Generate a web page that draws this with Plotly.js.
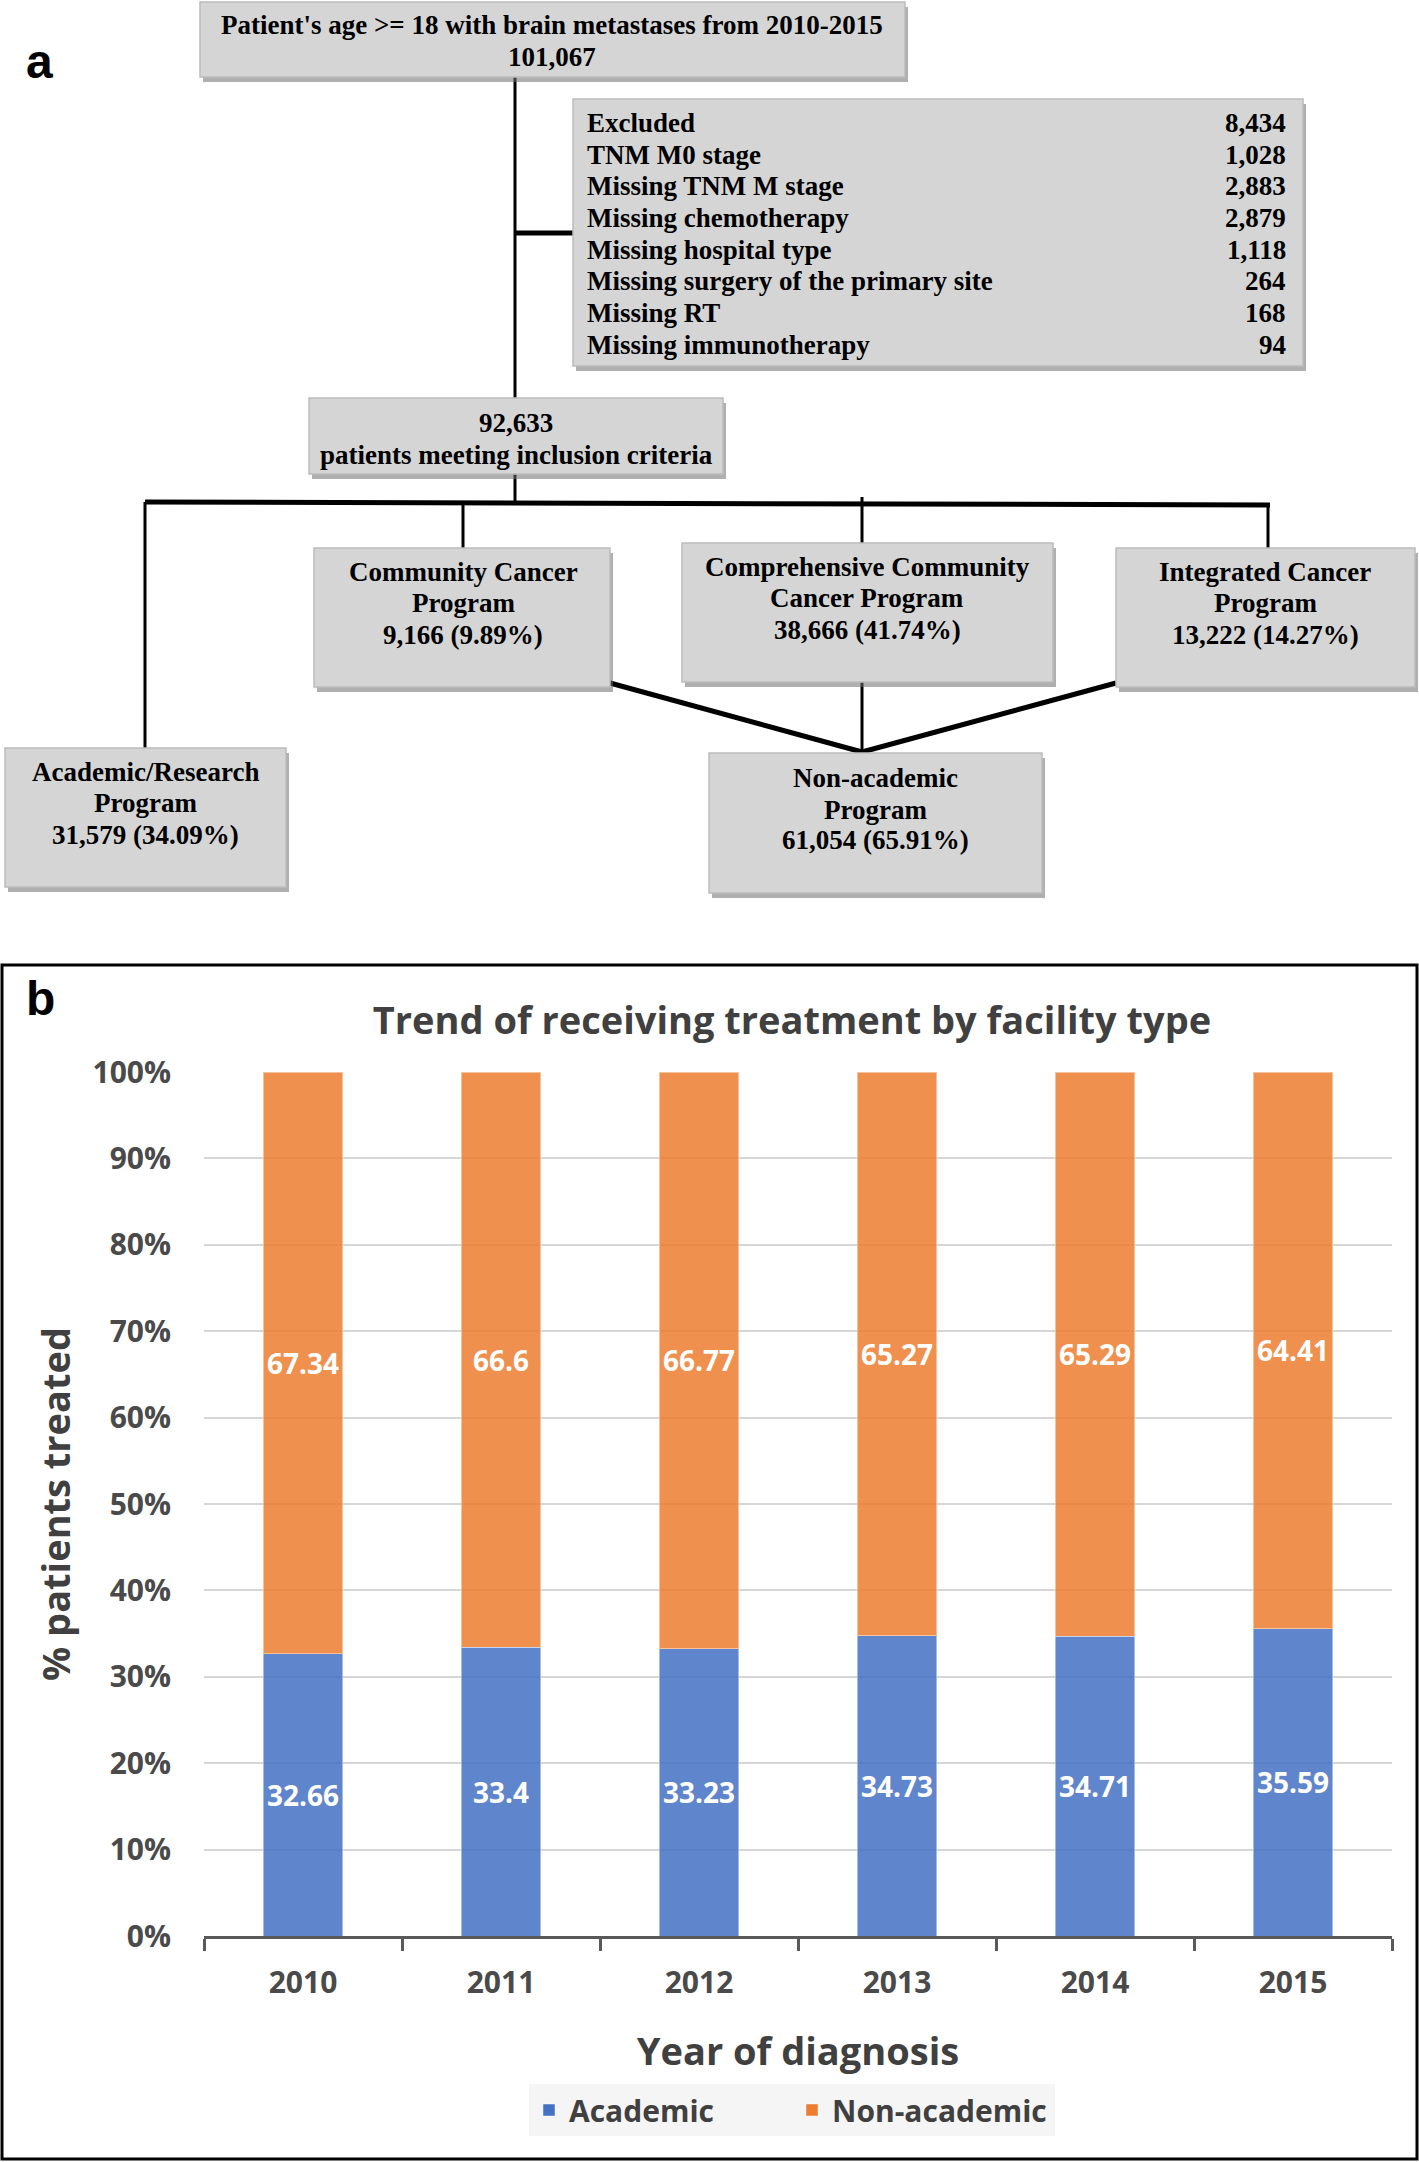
<!DOCTYPE html>
<html>
<head>
<meta charset="utf-8">
<script src="https://cdn.plot.ly/plotly-3.0.1.min.js"></script>
<style>html,body{margin:0;padding:0;background:#fff}#chart{width:1419px;height:2162px}</style>
</head>
<body>
<div id="chart"></div>
<script>
// ---------------- DATA ----------------
// Panel b: stacked bars
const years = ['2010', '2011', '2012', '2013', '2014', '2015'];
const academic = [32.66, 33.4, 33.23, 34.73, 34.71, 35.59];
const nonAcademic = [67.34, 66.6, 66.77, 65.27, 65.29, 64.41];
const yTickValues = [0, 10, 20, 30, 40, 50, 60, 70, 80, 90, 100];

// Panel a: flowchart
const cohortLabel = "Patient's age >= 18 with brain metastases from 2010-2015";
const cohortTotal = 101067;
const exclusionReasons = ['Excluded', 'TNM M0 stage', 'Missing TNM M stage', 'Missing chemotherapy',
  'Missing hospital type', 'Missing surgery of the primary site', 'Missing RT', 'Missing immunotherapy'];
const exclusionCounts = [8434, 1028, 2883, 2879, 1118, 264, 168, 94];
const includedTotal = 92633;
const includedLabel = 'patients meeting inclusion criteria';
const programNames = [['Community Cancer', 'Program'], ['Comprehensive Community', 'Cancer Program'],
  ['Integrated Cancer', 'Program'], ['Academic/Research', 'Program'], ['Non-academic', 'Program']];
const programCounts = [9166, 38666, 13222, 31579, 61054];
const programPercents = ['9.89', '41.74', '14.27', '34.09', '65.91'];

// ---------------- LAYOUT GEOMETRY (pixels) ----------------
const W = 1419, H = 2162;
const px = x => x / W;
const py = y => 1 - y / H;
const fmt = n => n.toLocaleString('en-US');

const BOXES = {
  top:   {r: [200, 2, 905, 77],    lines: [25, 57], cx: 552},
  excl:  {r: [573, 99, 1303, 366]},
  incl:  {r: [309, 398, 723, 474],  lines: [423, 455], cx: 516},
  p0:    {r: [314, 548, 610, 687],  lines: [572, 603, 635], cx: 463},
  p1:    {r: [682, 543, 1053, 682], lines: [567, 598, 630], cx: 867},
  p2:    {r: [1116, 548, 1415, 687], lines: [572, 603, 635], cx: 1265},
  p3:    {r: [5, 748, 286, 887],    lines: [772, 803, 835], cx: 145},
  p4:    {r: [709, 753, 1042, 893], lines: [778, 810, 840], cx: 875}
};
const EXCL_ROW0 = 123, EXCL_STEP = 31.7, EXCL_LEFT = 585, EXCL_RIGHT = 1288;

const CONNECTORS = [
  [515, 77, 515, 398, 3],
  [515, 233, 573, 233, 5],
  [515, 474, 515, 502, 3],
  [145, 502, 1270, 505, 5],
  [145, 502, 145, 748, 3],
  [463, 502, 463, 548, 3],
  [862, 497, 862, 543, 3],
  [1268, 504, 1268, 548, 3],
  [610, 683, 862, 752, 5],
  [1116, 683, 862, 752, 5],
  [862, 682, 862, 753, 3]
];

const serif = {family: 'Liberation Serif, Times New Roman, serif', size: 27, color: '#000', weight: 'bold'};
const sans = 'Open Sans, Noto Sans, sans-serif';

const shapes = [];
const annotations = [];

// connectors
CONNECTORS.forEach(c => shapes.push({type: 'line', xref: 'paper', yref: 'paper',
  x0: px(c[0]), y0: py(c[1]), x1: px(c[2]), y1: py(c[3]), line: {color: '#000', width: c[4]}}));

// boxes
Object.values(BOXES).forEach(b => {
  const [x0, y0, x1, y1] = b.r;
  shapes.push({type: 'rect', xref: 'paper', yref: 'paper', x0: px(x0 + 3), y0: py(y0 + 5), x1: px(x1 + 3), y1: py(y1 + 5),
    fillcolor: 'rgba(110,110,110,0.55)', line: {width: 0}});
  shapes.push({type: 'rect', xref: 'paper', yref: 'paper', x0: px(x0), y0: py(y0), x1: px(x1), y1: py(y1),
    fillcolor: '#d5d5d5', line: {color: '#bcbcbc', width: 1.5}});
});

function addLines(box, texts) {
  texts.forEach((t, i) => annotations.push({xref: 'paper', yref: 'paper', x: px(box.cx), y: py(box.lines[i]),
    xanchor: 'center', yanchor: 'middle', text: t, showarrow: false, font: serif}));
}
addLines(BOXES.top, [cohortLabel, fmt(cohortTotal)]);
addLines(BOXES.incl, [fmt(includedTotal), includedLabel]);
['p0', 'p1', 'p2', 'p3', 'p4'].forEach((k, i) =>
  addLines(BOXES[k], programNames[i].concat([fmt(programCounts[i]) + ' (' + programPercents[i] + '%)'])));
exclusionReasons.forEach((r, i) => {
  const y = py(EXCL_ROW0 + i * EXCL_STEP);
  annotations.push({xref: 'paper', yref: 'paper', x: px(EXCL_LEFT), y: y, xanchor: 'left', yanchor: 'middle',
    text: r, showarrow: false, font: serif});
  annotations.push({xref: 'paper', yref: 'paper', x: px(EXCL_RIGHT), y: y, xanchor: 'right', yanchor: 'middle',
    text: fmt(exclusionCounts[i]), showarrow: false, font: serif});
});

// panel letters
const letterFont = {family: 'Liberation Sans, Arial, sans-serif', size: 48, color: '#000', weight: 'bold'};
annotations.push({xref: 'paper', yref: 'paper', x: px(24), y: py(61), xanchor: 'left', yanchor: 'middle',
  text: 'a', showarrow: false, font: letterFont});
annotations.push({xref: 'paper', yref: 'paper', x: px(24), y: py(998), xanchor: 'left', yanchor: 'middle',
  text: 'b', showarrow: false, font: letterFont});

// panel b frame
shapes.push({type: 'rect', xref: 'paper', yref: 'paper', x0: px(2), y0: py(965), x1: px(1417), y1: py(2159),
  line: {color: '#000', width: 3}, fillcolor: 'rgba(0,0,0,0)'});

// ---------------- TRACES ----------------
const labelFont = {family: sans, size: 28, color: '#ffffff', weight: 'bold'};
const traces = [
  {type: 'bar', name: 'Academic', x: years, y: academic, text: academic.map(String),
   textposition: 'inside', insidetextanchor: 'middle', textangle: 0, constraintext: 'none',
   textfont: labelFont, marker: {color: '#4472C4', opacity: 0.85, line: {color: 'rgba(255,255,255,0.45)', width: 1}},
   hoverinfo: 'x+y'},
  {type: 'bar', name: 'Non-academic', x: years, y: nonAcademic, text: nonAcademic.map(String),
   textposition: 'inside', insidetextanchor: 'middle', textangle: 0, constraintext: 'none',
   textfont: labelFont, marker: {color: '#ED7D31', opacity: 0.85, line: {color: 'rgba(255,255,255,0.45)', width: 1}},
   hoverinfo: 'x+y'}
];

const tickFont = {family: sans, size: 30, color: '#4a4a4a', weight: 'bold'};
const titleFont = {family: sans, size: 38, color: '#404040', weight: 'bold'};

const layout = {
  width: W, height: H,
  margin: {l: 0, r: 0, t: 0, b: 0, pad: 0},
  paper_bgcolor: '#ffffff', plot_bgcolor: 'rgba(0,0,0,0)',
  barmode: 'stack', bargap: 0.6,
  showlegend: true,
  title: {text: 'Trend of receiving treatment by facility type', font: titleFont,
    x: px(792), xanchor: 'center', xref: 'paper', y: py(1021), yanchor: 'middle', yref: 'paper'},
  xaxis: {
    domain: [px(204), px(1392)], anchor: 'y', type: 'category',
    showline: true, linecolor: '#595959', linewidth: 3,
    ticks: 'outside', tickson: 'boundaries', ticklen: 12, tickwidth: 3, tickcolor: '#595959',
    ticklabelstandoff: 18,
    tickfont: tickFont, showgrid: false, zeroline: false, automargin: false,
    title: {text: 'Year of diagnosis', font: titleFont, standoff: 38}
  },
  yaxis: {
    domain: [py(1936), py(1072)], anchor: 'x', range: [0, 100],
    tickvals: yTickValues, ticktext: yTickValues.map(v => v + '%'),
    showgrid: true, gridcolor: '#d6d6d6', gridwidth: 2, zeroline: false, showline: false,
    ticks: '', ticklabelstandoff: 32, tickfont: tickFont, automargin: false,
    title: {text: '% patients treated', font: titleFont, standoff: 10}
  },
  legend: {orientation: 'h', x: px(792), xanchor: 'center', y: py(2110), yanchor: 'middle',
    xref: 'paper', yref: 'paper', bgcolor: '#f5f5f5', traceorder: 'normal',
    entrywidth: 218, entrywidthmode: 'pixels',
    font: {family: sans, size: 30, color: '#404040', weight: 'bold'}},
  shapes: shapes,
  annotations: annotations
};

Plotly.newPlot('chart', traces, layout, {displayModeBar: false, staticPlot: true});
</script>
</body>
</html>
